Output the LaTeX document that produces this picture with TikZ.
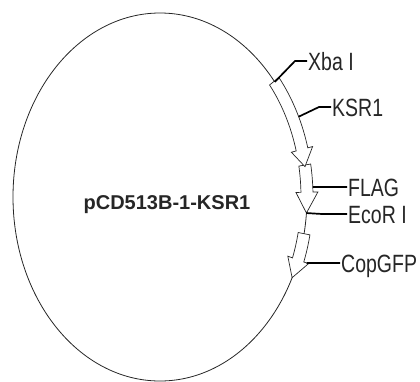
\documentclass[tikz,border=0pt]{standalone}
\usepackage{fontspec}
\setmainfont{Liberation Sans}
\newfontfamily\narrowfont[FakeStretch=0.78]{Liberation Sans}
\usetikzlibrary{positioning}
\tikzset{
  every node/.style={
    font=\narrowfont\fontsize{25}{29}\selectfont
  },
  backbone/.style={
    draw=black!85,
    line width=0.8pt
  },
  gene/.style={
    draw=black!85,
    fill=white,
    line width=0.7pt,
    line join=miter
  },
  site/.style={
    anchor=west,
    inner sep=1pt,
    text height=18pt,
    text depth=0pt,
    text=black!85
  },
  leader/.style={
    draw=black,
    line width=1.7pt
  },
  plasmid/.style={
    font=\bfseries\fontsize{20}{24}\selectfont,
    text=black!85
  }
}

\begin{document}
\begin{tikzpicture}[x=1pt,y=1pt]
    \useasboundingbox (0,0) rectangle (420,-381);
    \draw[backbone] (160,-197) ellipse[x radius=147pt, y radius=184pt];
    \node[plasmid] (name) at (167,-205) {pCD513B-1-KSR1};
    \begin{scope}[shift={(160,-197)}]
      % start / head base / tip angles
      \foreach \ta/\tb/\tc in {10/1.5/-5, 39/15/9.5, -11.5/-20/-26}
        \filldraw[gene] (\ta:153pt and 190pt)
          arc[start angle=\ta, end angle=\tb, x radius=153pt, y radius=190pt]
          -- (\tb:158pt and 195pt) -- (\tc:147pt and 184pt)
          -- (\tb:136pt and 173pt) -- (\tb:141pt and 178pt)
          arc[start angle=\tb, end angle=\ta, x radius=141pt, y radius=178pt]
          -- cycle;
      \coordinate (xbasite) at (38.7:147pt and 184pt);
      \coordinate (ksrsite) at (25:153pt and 190pt);
      \coordinate (flagsite) at (3:153pt and 190pt);
      \coordinate (ecosite) at (-5:147pt and 184pt);
      \coordinate (copsite) at (-20:156pt and 193pt);
    \end{scope}
    \node[site] (xbalabel) at (307,-61) {Xba I};
    \node[site] (ksrlabel) at (331,-107) {KSR1};
    \node[site] (flaglabel) at (347,-187) {FLAG};
    \node[site] (ecolabel) at (347,-214) {EcoR I};
    \node[site] (coplabel) at (340,-263) {CopGFP};
    \draw[leader] (xbasite) -- ([xshift=-12pt]xbalabel.west) -- (xbalabel.west);
    \draw[leader] (ksrsite) -- ([xshift=-12pt]ksrlabel.west) -- (ksrlabel.west);
    \draw[leader] (flagsite) -- ([xshift=-18pt]flaglabel.west) -- (flaglabel.west);
    \draw[leader] (ecosite) -- ([xshift=-25pt]ecolabel.west) -- (ecolabel.west);
    \draw[leader] (copsite) -- ([xshift=-16pt]coplabel.west) -- (coplabel.west);
\end{tikzpicture}
\end{document}
